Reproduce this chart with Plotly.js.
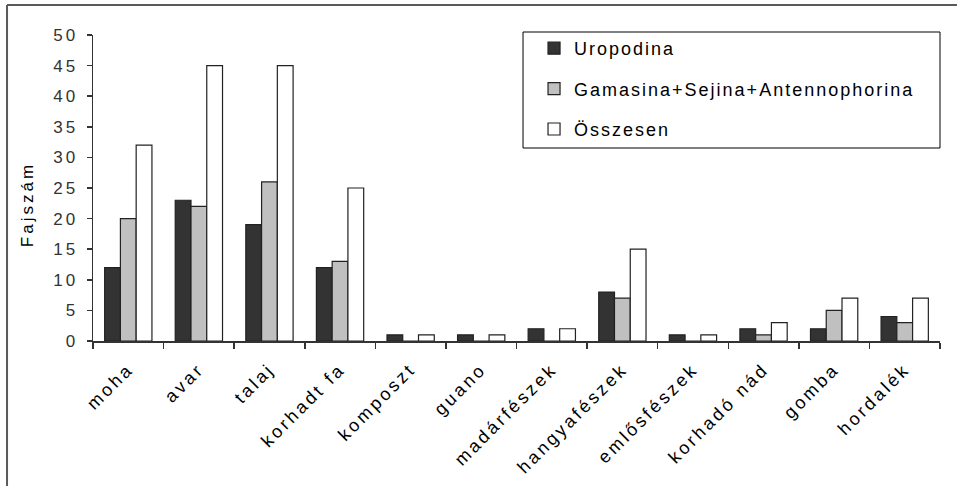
<!DOCTYPE html>
<html>
<head>
<meta charset="utf-8">
<script src="https://cdn.plot.ly/plotly-3.0.1.min.js"></script>
<style>
  html, body { margin: 0; padding: 0; background: #fff; }
  #chart { width: 957px; height: 486px; }
  text { letter-spacing: 3px !important; }
  text.legendtext { letter-spacing: 2px !important; }
</style>
</head>
<body>
<div id="chart"></div>
<script>
const categories = ["moha", "avar", "talaj", "korhadt fa", "komposzt", "guano", "madárfészek", "hangyafészek", "emlősfészek", "korhadó nád", "gomba", "hordalék"];
const uropodina = [12, 23, 19, 12, 1, 1, 2, 8, 1, 2, 2, 4];
const gamasina = [20, 22, 26, 13, 0, 0, 0, 7, 0, 1, 5, 3];
const osszesen = [32, 45, 45, 25, 1, 1, 2, 15, 1, 3, 7, 7];
const seriesNames = ["Uropodina", "Gamasina+Sejina+Antennophorina", "Összesen"];
const yTicks = [0, 5, 10, 15, 20, 25, 30, 35, 40, 45, 50];
const yTitle = "Fajszám";

const colors = ["#333333", "#c0c0c0", "#ffffff"];
const values = [uropodina, gamasina, osszesen];

const traces = values.map((v, i) => ({
  type: "bar",
  x: categories,
  y: v,
  name: seriesNames[i],
  legendgroup: "g" + i,
  marker: { color: colors[i], line: { color: "#222222", width: 1.2 } },
  hoverinfo: "skip"
}));

const fam = "Liberation Sans, Arial, sans-serif";

const layout = {
  width: 957,
  height: 486,
  margin: { l: 93, r: 17, t: 35, b: 145, pad: 0 },
  paper_bgcolor: "#ffffff",
  plot_bgcolor: "#ffffff",
  font: { family: fam, size: 16, color: "#000" },
  barmode: "group",
  bargap: 0.33,
  bargroupgap: 0,
  showlegend: true,
  legend: {
    x: 0.5207, y: 1.0163, xanchor: "left", yanchor: "top",
    bgcolor: "rgba(0,0,0,0)", borderwidth: 0,
    font: { family: fam, size: 18, color: "#000" },
    traceorder: "grouped", tracegroupgap: 14, itemwidth: 30
  },
  xaxis: {
    type: "category",
    automargin: false,
    showgrid: false,
    showline: true, linecolor: "#333333", linewidth: 1.5,
    ticks: "outside", tickson: "boundaries", ticklen: 6, tickcolor: "#333333", tickwidth: 1.5,
    tickangle: -45,
    ticklabelstandoff: 9,
    tickfont: { family: fam, size: 18, color: "#000" },
    zeroline: false
  },
  yaxis: {
    range: [0, 50],
    automargin: false,
    tickvals: yTicks,
    ticktext: yTicks.map(String),
    showgrid: false, zeroline: false,
    showline: true, linecolor: "#333333", linewidth: 1.5,
    ticks: "outside", ticklen: 5, tickcolor: "#333333", tickwidth: 1.5,
    ticklabelstandoff: 5,
    tickfont: { family: fam, size: 17, color: "#333" }
  },
  annotations: [
    { text: yTitle, xref: "paper", yref: "paper", x: -0.0779, y: 0.444, xanchor: "center", yanchor: "middle",
      textangle: -90, showarrow: false, font: { family: fam, size: 17, color: "#000" } }
  ],
  shapes: [
    { type: "line", xref: "paper", yref: "paper", x0: -0.1015, x1: 1.03, y0: 1.098, y1: 1.098, line: { color: "#5a5a5a", width: 2 } },
    { type: "line", xref: "paper", yref: "paper", x0: -0.1015, x1: -0.1015, y0: 1.098, y1: -0.48, line: { color: "#5a5a5a", width: 2 } },
    { type: "rect", xref: "paper", yref: "paper", x0: 0.5077, x1: 1.0, y0: 0.6307, y1: 1.0098, line: { color: "#000000", width: 1 }, fillcolor: "rgba(0,0,0,0)" }
  ]
};

Plotly.newPlot("chart", traces, layout, { displayModeBar: false, staticPlot: true });
</script>
</body>
</html>
